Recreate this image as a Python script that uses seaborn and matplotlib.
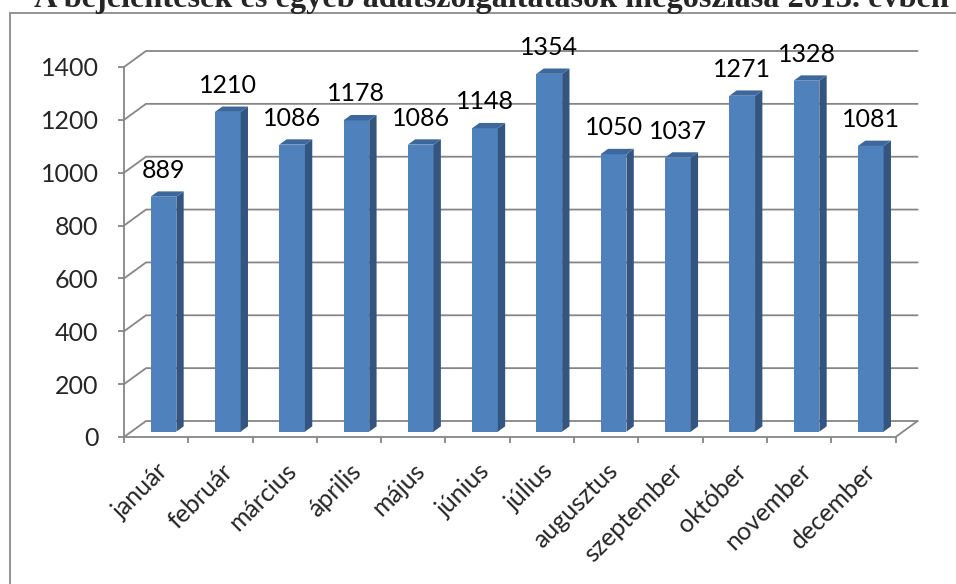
import matplotlib
matplotlib.use("Agg")
import numpy as np
import matplotlib.pyplot as plt
import seaborn as sns
from matplotlib.patches import Polygon
from matplotlib.lines import Line2D

months = ['január', 'február', 'március', 'április', 'május', 'június',
          'július', 'augusztus', 'szeptember', 'október', 'november', 'december']
counts = [889, 1210, 1086, 1178, 1086, 1148, 1354, 1050, 1037, 1271, 1328, 1081]
yticks = [0, 200, 400, 600, 800, 1000, 1200, 1400]
title = 'A bejelentések és egyéb adatszolgáltatások megoszlása 2013. évben'

sns.set_style('white')
plt.rcParams['font.family'] = ['Lato', 'DejaVu Sans']

W, H = 956, 584
px_cat = 64.3            # pixels per category
px_val = 370 / 1400      # pixels per value unit
depth_x = 22 / px_cat    # fake 3D depth, in data units
depth_y = 16 / px_val
grid_c = '#868686'
front_c, side_c, top_c = '#4F81BD', '#34557F', '#3D689D'
fs = 18

n = len(months)
x_lo, x_hi = -0.5, n - 0.5 + depth_x + 0.1
y_lo, y_hi = 0, 1400 + depth_y + 15

fig = plt.figure(figsize=(W / 100, H / 100), dpi=100)
ax = fig.add_axes([124 / W, 147 / H, (x_hi - x_lo) * px_cat / W, (y_hi - y_lo) * px_val / H])

# back wall grid + left wall diagonals
for v in yticks:
    ax.plot([x_lo, x_lo + depth_x, n - 0.5 + depth_x], [v, v + depth_y, v + depth_y],
            color=grid_c, lw=1.3, zorder=1)
# right edge of the floor
ax.plot([n - 0.5, n - 0.5 + depth_x], [0, depth_y], color=grid_c, lw=1.3, zorder=1)

sns.barplot(x=months, y=counts, width=0.4, color=front_c, saturation=1, ax=ax, zorder=3)

# push the bars back into the box and give them a side and a top
bx, by = depth_x / 3, depth_y / 3
for p, v in zip(ax.patches, counts):
    x0 = p.get_x() + bx
    w = p.get_width()
    p.set_x(x0)
    p.set_y(by)
    p.set_linewidth(0)
    x1, y0, y1 = x0 + w, by, by + v
    ax.add_patch(Polygon([(x1, y0), (x1 + bx, y0 + by), (x1 + bx, y1 + by), (x1, y1)],
                         closed=True, facecolor=side_c, edgecolor='none', zorder=3))
    ax.add_patch(Polygon([(x0, y1), (x1, y1), (x1 + bx, y1 + by), (x0 + bx, y1 + by)],
                         closed=True, facecolor=top_c, edgecolor='none', zorder=3))
    ax.annotate(f'{v}', (x0 + w / 2, y1), xytext=(0, 13.7), textcoords='offset points',
                ha='center', va='baseline', fontsize=fs, color='black', zorder=4)

ax.set_xlim(x_lo, x_hi)
ax.set_ylim(y_lo, y_hi)
ax.set_xlabel('')
ax.set_ylabel('')

for s in ['top', 'right']:
    ax.spines[s].set_visible(False)
ax.spines['left'].set_bounds(0, 1400)
ax.spines['bottom'].set_bounds(-0.5, n - 0.5)
for s in ['left', 'bottom']:
    ax.spines[s].set_color(grid_c)
    ax.spines[s].set_linewidth(1.3)

ax.set_yticks(yticks)
ax.set_yticklabels([str(t) for t in yticks])
ax.tick_params(axis='y', length=4.3, width=1.3, color=grid_c, pad=14, labelsize=fs, left=True)
ax.set_xticks(range(n))
ax.set_xticklabels(months, rotation=45, ha='right', va='top', rotation_mode='anchor')
ax.set_xticks(np.arange(n + 1) - 0.5, minor=True)
ax.tick_params(axis='x', which='major', length=0, pad=16, labelsize=fs)
ax.tick_params(axis='x', which='minor', length=4.3, width=1.3, color=grid_c, bottom=True)

# outer frame (left and top edges visible)
fig.add_artist(Line2D([9.5 / W, 9.5 / W], [0, 1 - 13 / H], transform=fig.transFigure,
                      color='#8c8c8c', lw=1.3))
fig.add_artist(Line2D([9.5 / W, 1], [1 - 13 / H, 1 - 13 / H], transform=fig.transFigure,
                      color='#8c8c8c', lw=1.3))

fig.text(491.5 / W, 1 - 7.5 / H, title, ha='center', va='baseline',
         family='Liberation Serif', weight='bold', fontsize=23.2)

fig.savefig('out.png', dpi=100)
